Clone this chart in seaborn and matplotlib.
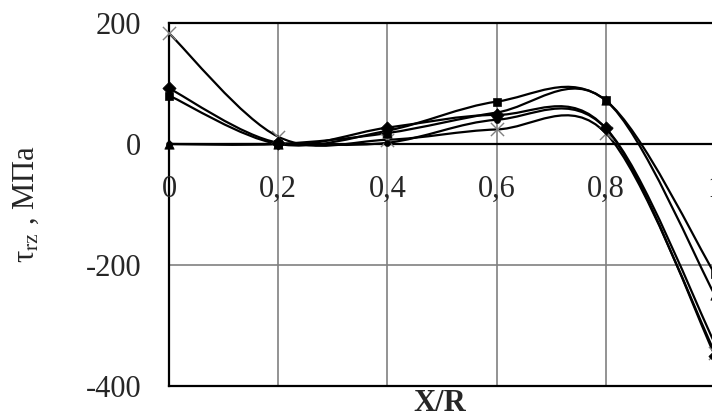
import numpy as np
import pandas as pd
import matplotlib
matplotlib.use("Agg")
import matplotlib.pyplot as plt
from matplotlib.path import Path
from matplotlib.patches import PathPatch
import seaborn as sns

# data
x_pos = [0.0, 0.2, 0.4, 0.6, 0.8, 1.0]
tau_cross = [183, 12, 7, 24, 18, -345]
tau_diamond = [92, 2, 27, 48, 26, -350]
tau_square = [80, 0, 22, 70, 72, -215]
tau_triangle = [0, 0, 18, 52, 72, -250]
tau_circle = [0, 0, 2, 40, 26, -330]
x_ticks = [0.0, 0.2, 0.4, 0.6, 0.8, 1.0]
x_ticklabels = ["0", "0,2", "0,4", "0,6", "0,8", "1"]
y_ticks = [-400, -200, 0, 200]

series = {
    "cross": tau_cross,
    "diamond": tau_diamond,
    "square": tau_square,
    "triangle": tau_triangle,
    "circle": tau_circle,
}
markers = {"cross": "x", "diamond": "D", "square": "s", "triangle": "^", "circle": "o"}
msizes = {"cross": 90, "diamond": 45, "square": 35, "triangle": 45, "circle": 20}

df = pd.DataFrame([(k, xv, yv) for k, vals in series.items() for xv, yv in zip(x_pos, vals)],
                  columns=["series", "x", "tau"])

sns.set_style("white")
plt.rcParams["font.family"] = ["Liberation Serif", "DejaVu Serif"]
plt.rcParams["mathtext.fontset"] = "stix"

fig = plt.figure(figsize=(7.12, 4.18), dpi=100)
ax = fig.add_axes([0.2374, 0.0766, 0.7668, 0.8684])


def smooth_path(xs, ys):
    # Excel-style smoothed line: cubic bezier with 1/6 tangents
    pts = np.column_stack([xs, ys]).astype(float)
    n = len(pts)
    verts = [pts[0]]
    codes = [Path.MOVETO]
    for i in range(n - 1):
        p0 = pts[i - 1] if i > 0 else pts[i]
        p1 = pts[i]
        p2 = pts[i + 1]
        p3 = pts[i + 2] if i + 2 < n else pts[i + 1]
        c1 = p1 + (p2 - p0) / 6
        c2 = p2 - (p3 - p1) / 6
        verts += [c1, c2, p2]
        codes += [Path.CURVE4] * 3
    return Path(verts, codes)


for name, vals in series.items():
    ax.add_patch(PathPatch(smooth_path(x_pos, vals), fill=False, lw=1.6,
                           edgecolor="black", zorder=3, clip_on=True))

for name in series:
    sub = df[df["series"] == name]
    if markers[name] == "x":
        sns.scatterplot(data=sub, x="x", y="tau", marker="x", s=msizes[name],
                        color="#808080", linewidth=1.0, ax=ax, zorder=4, clip_on=False)
    else:
        sns.scatterplot(data=sub, x="x", y="tau", marker=markers[name], s=msizes[name],
                        color="black", edgecolor="black", ax=ax, zorder=4, clip_on=False)

ax.set_xlim(0, 1.0)
ax.set_ylim(-400, 200)

# grid
for xv in x_ticks[1:-1]:
    ax.axvline(xv, color="#808080", lw=1.2, zorder=1)
ax.axhline(-200, color="#808080", lw=1.2, zorder=1)
ax.axhline(0, color="black", lw=1.6, zorder=2)

ax.set_yticks(y_ticks)
ax.set_yticklabels([str(v) for v in y_ticks], fontsize=22)
ax.tick_params(axis="y", length=0, pad=20)
ax.set_xticks([])
ax.set_xlabel("")

for side in ["top", "left", "bottom"]:
    ax.spines[side].set_color("black")
    ax.spines[side].set_linewidth(1.6)
ax.spines["right"].set_visible(False)

# x tick labels sit under the zero line
for xv, lab in zip(x_ticks, x_ticklabels):
    ax.annotate(lab, xy=(xv, 0), xytext=(0, -22), textcoords="offset points",
                ha="center", va="top", fontsize=22, annotation_clip=False)

ax.set_ylabel(r"τ$_{\mathrm{rz}}$ , МПа", fontsize=22, labelpad=32)
fig.text(0.618, 0.0, "X/R", fontsize=22, fontweight="bold", ha="center", va="bottom")

ax.set_zorder(2)
fig.savefig("out.png", dpi=100)
